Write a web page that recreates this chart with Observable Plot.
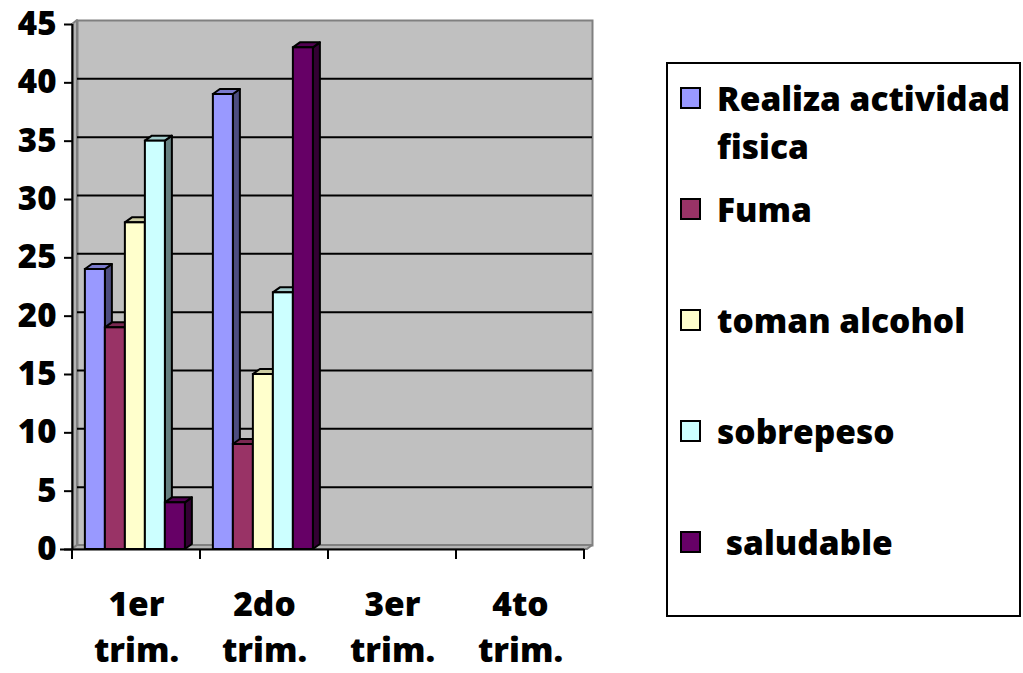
<!DOCTYPE html>
<html><head><meta charset="utf-8">
<script src="https://cdn.jsdelivr.net/npm/d3@7"></script>
<script src="https://cdn.jsdelivr.net/npm/@observablehq/plot@0.6"></script>
<style>
body{margin:0;background:#fff;}
#wrap{position:relative;width:1023px;height:673px;font-family:"Open Sans",Lato,sans-serif;}
#chart{position:absolute;left:0;top:0;}
#legend{position:absolute;left:666px;top:62px;width:355px;height:555px;border:2px solid #000;box-sizing:border-box;background:#fff;}
.item{position:absolute;left:12px;display:flex;align-items:flex-start;}
.sw{width:17px;height:18px;border:2px solid #000;margin-top:13px;flex:none;}
.lab{margin-left:16px;width:312px;font-size:33.5px;font-weight:800;line-height:48px;white-space:pre-wrap;color:#000;}
</style></head><body>
<div id="wrap"><div id="chart"></div><div id="legend"></div></div>
<script>
const quarters = ["1er trim.", "2do trim.", "3er trim.", "4to trim."];
const series = ["Realiza actividad fisica", "Fuma", "toman alcohol", "sobrepeso", " saludable"];
const colors = ["#9999FF", "#993366", "#FFFFCC", "#CCFFFF", "#660066"];
const realiza = [24, 39, null, null];
const fuma = [19, 9, null, null];
const alcohol = [28, 15, null, null];
const sobrepeso = [35, 22, null, null];
const saludable = [4, 43, null, null];
const yTicks = [0, 5, 10, 15, 20, 25, 30, 35, 40, 45];
const gridTicks = [5, 10, 15, 20, 25, 30, 35, 40];

const values = [realiza, fuma, alcohol, sobrepeso, saludable];

const W = 1023, H = 673, ml = 72, mr = 439, mt = 24, mb = 124;
const bw = (W - ml - mr) / quarters.length;
const inner = d3.scaleBand().domain(series).range([0, bw]).paddingInner(0).paddingOuter(0.7).align(0.46);
const wallDx = 5, wallDy = 4, barDx = 7, barDy = 5;
const FONT = "'Open Sans', Lato, sans-serif";

const barMarks = series.map((s, i) => Plot.barY(
  quarters.map((q, k) => ({q, v: values[i][k]})).filter(d => d.v != null),
  {x: "q", y: "v", fill: colors[i], stroke: "#000", strokeWidth: 2,
   insetLeft: inner(s), insetRight: bw - inner(s) - inner.bandwidth()}
));

const boundaries = quarters.map((q) => ({q, side: -1})).concat([{q: quarters[quarters.length - 1], side: 1}]);

const plot = Plot.plot({
  width: W, height: H,
  marginLeft: ml, marginRight: mr, marginTop: mt, marginBottom: mb,
  style: {fontFamily: FONT, background: "transparent"},
  x: {domain: quarters, padding: 0, axis: null},
  y: {domain: [0, 45], axis: null},
  marks: [
    Plot.frame({fill: "#C0C0C0", stroke: "#808080", strokeWidth: 2, dx: wallDx, dy: -wallDy, insetRight: -3}),
    Plot.ruleY(gridTicks, {y: d => d, dx: wallDx, dy: -wallDy, stroke: "#000", strokeWidth: 2, insetRight: -3}),
    ...barMarks,
    Plot.ruleY([0], {y: d => d, stroke: "#000", strokeWidth: 2, insetLeft: -12}),
    Plot.ruleX([quarters[0]], {x: d => d, dx: -bw / 2, y1: 0, y2: 45, stroke: "#000", strokeWidth: 2}),
    Plot.ruleX(boundaries, {x: "q", y1: 0, y2: -0.85, stroke: "#000", strokeWidth: 2}),
    Plot.ruleY(yTicks, {y: d => d, stroke: "#000", strokeWidth: 2, insetLeft: -8, insetRight: W - ml - mr}),
    Plot.text(yTicks, {x: () => quarters[0], y: d => d, dx: -bw / 2 - 16, text: d => String(d), textAnchor: "end",
      fontSize: 33, fontWeight: 800, fill: "#000", fontFamily: FONT}),
    Plot.text(quarters, {x: d => d, y: 0, dy: 56, text: d => d.split(" ")[0], fontSize: 33.5, fontWeight: 800, fill: "#000", fontFamily: FONT}),
    Plot.text(quarters, {x: d => d, y: 0, dy: 102, text: d => d.split(" ")[1], fontSize: 33.5, fontWeight: 800, fill: "#000", fontFamily: FONT})
  ]
});
document.getElementById("chart").appendChild(plot);

// Post-process: boundary ticks at band edges, 3D walls and bar faces (positions from Plot's scales)
const svgNS = "http://www.w3.org/2000/svg";
const xs = plot.scale("x"), ys = plot.scale("y");
const x0 = xs.apply(quarters[0]);
const x1 = xs.apply(quarters[quarters.length - 1]) + xs.bandwidth;
const yb = ys.apply(0), yt = ys.apply(45);

const ruleGroups = plot.querySelectorAll('g[aria-label="rule"]');
const tickGroup = ruleGroups[3];
if (tickGroup) {
  tickGroup.querySelectorAll("line").forEach((ln, k) => {
    const b = boundaries[k];
    const bx = xs.apply(b.q) + (b.side > 0 ? xs.bandwidth : 0);
    ln.setAttribute("x1", bx); ln.setAttribute("x2", bx);
    ln.removeAttribute("transform");
  });
  tickGroup.removeAttribute("transform");
}

function poly(pts, fill, stroke, sw) {
  const p = document.createElementNS(svgNS, "polygon");
  p.setAttribute("points", pts.map(d => d.join(",")).join(" "));
  p.setAttribute("fill", fill);
  p.setAttribute("stroke", stroke);
  p.setAttribute("stroke-width", sw);
  p.setAttribute("stroke-linejoin", "round");
  return p;
}
const frameEl = plot.querySelector('[aria-label="frame"]');
const walls = document.createElementNS(svgNS, "g");
walls.appendChild(poly([[x0, yb], [x0, yt], [x0 + wallDx, yt - wallDy], [x0 + wallDx, yb - wallDy]], "#B4B4B4", "#808080", 2));
walls.appendChild(poly([[x0, yb], [x0 + wallDx, yb - wallDy], [x1 + wallDx + 3, yb - wallDy], [x1 + 3, yb]], "#B4B4B4", "#808080", 2));
if (frameEl) frameEl.after(walls);

function shade(c, k) {
  const r = d3.rgb(c);
  return d3.rgb(r.r * k, r.g * k, r.b * k).formatHex();
}
plot.querySelectorAll('g[aria-label="bar"]').forEach(g => {
  const fill = g.getAttribute("fill");
  g.querySelectorAll("rect").forEach(rect => {
    const x = +rect.getAttribute("x"), y = +rect.getAttribute("y");
    const w = +rect.getAttribute("width"), h = +rect.getAttribute("height");
    const side = poly([[x + w, y], [x + w + barDx, y - barDy], [x + w + barDx, y + h - barDy], [x + w, y + h]], shade(fill, 0.5), "#000", 2);
    const top = poly([[x, y], [x + barDx, y - barDy], [x + w + barDx, y - barDy], [x + w, y]], shade(fill, 0.8), "#000", 2);
    g.insertBefore(side, rect);
    g.insertBefore(top, rect);
  });
});

// Legend
const legend = document.getElementById("legend");
series.forEach((s, i) => {
  const it = document.createElement("div");
  it.className = "item";
  it.style.top = (10 + i * 111) + "px";
  const sw = document.createElement("div");
  sw.className = "sw"; sw.style.background = colors[i];
  const lab = document.createElement("div");
  lab.className = "lab"; lab.textContent = s;
  it.appendChild(sw); it.appendChild(lab);
  legend.appendChild(it);
});
</script>
</body></html>
